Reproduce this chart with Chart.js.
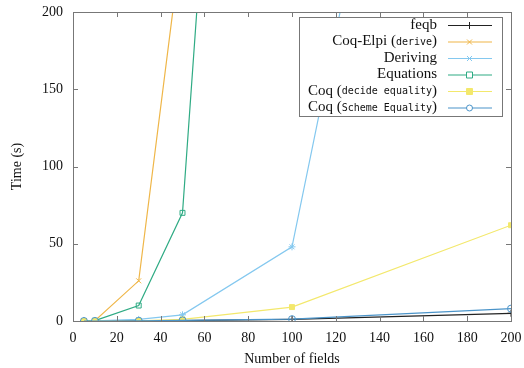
<!DOCTYPE html>
<html>
<head>
<meta charset="utf-8">
<script src="https://cdn.jsdelivr.net/npm/chart.js@4"></script>
<style>
  html, body { margin: 0; padding: 0; background: #fff; }
  #wrap { width: 524px; height: 368px; }
</style>
</head>
<body>
<div id="wrap"><canvas id="timeChart" width="524" height="368"></canvas></div>
<script>
// number of fields measured
const fields = [5, 10, 30, 50, 100, 200];
// times in seconds (values above 200 estimated from slopes)
const feqb = [0, 0, 0.1, 0.3, 1, 5];
const coqElpi = [0, 0.2, 26, 250];
const deriving = [0, 0.1, 1, 4, 48, 740];
const equations = [0, 0.2, 10, 70, 1070];
const coqDecide = [0, 0, 0.1, 1, 9, 62];
const coqScheme = [0, 0, 0.1, 0.4, 1.2, 8];

const xTicks = [0, 20, 40, 60, 80, 100, 120, 140, 160, 180, 200];
const yTicks = [0, 50, 100, 150, 200];

const SERIF = '"Liberation Serif", "DejaVu Serif", serif';
const MONO = '"DejaVu Sans Mono", "Liberation Mono", monospace';

function pts(vals) {
  return vals.map((v, i) => ({ x: fields[i], y: v }));
}

// label pieces: [text, isMono]
const series = [
  { label: [['feqb', false]], data: feqb, color: '#222222', style: 'cross', fill: false },
  { label: [['Coq-Elpi ', false], ['(', false], ['derive', true], [')', false]], data: coqElpi, color: '#efb648', style: 'crossRot', fill: false },
  { label: [['Deriving', false]], data: deriving, color: '#84c8ef', style: 'star', fill: false },
  { label: [['Equations', false]], data: equations, color: '#2fab84', style: 'rect', fill: false },
  { label: [['Coq ', false], ['(', false], ['decide equality', true], [')', false]], data: coqDecide, color: '#f3e86c', style: 'rect', fill: true },
  { label: [['Coq ', false], ['(', false], ['Scheme Equality', true], [')', false]], data: coqScheme, color: '#4b94c9', style: 'circle', fill: false }
];

const datasets = series.map((s, i) => ({
  label: s.label.map(p => p[0]).join(''),
  data: pts(s.data),
  borderColor: s.color,
  backgroundColor: s.fill ? s.color : '#ffffff',
  pointBorderColor: s.color,
  pointBackgroundColor: s.fill ? s.color : 'rgba(0,0,0,0)',
  pointStyle: s.style,
  pointRadius: 3.5,
  pointBorderWidth: 1,
  borderWidth: 1.2,
  tension: 0,
  order: series.length - i
}));

// gnuplot style frame with inward ticks on all four sides
const framePlugin = {
  id: 'frame',
  afterDatasetsDraw(chart) {
    const { ctx, chartArea: a, scales } = chart;
    ctx.save();
    ctx.strokeStyle = '#777777';
    ctx.lineWidth = 1;
    ctx.beginPath();
    const len = 5;
    xTicks.forEach(v => {
      const px = Math.round(scales.x.getPixelForValue(v)) + 0.5;
      ctx.moveTo(px, a.bottom); ctx.lineTo(px, a.bottom - len);
      ctx.moveTo(px, a.top); ctx.lineTo(px, a.top + len);
    });
    yTicks.forEach(v => {
      const py = Math.round(scales.y.getPixelForValue(v)) + 0.5;
      ctx.moveTo(a.left, py); ctx.lineTo(a.left + len, py);
      ctx.moveTo(a.right, py); ctx.lineTo(a.right - len, py);
    });
    ctx.stroke();
    ctx.strokeRect(Math.round(a.left) + 0.5, Math.round(a.top) + 0.5,
      Math.round(a.right - a.left), Math.round(a.bottom - a.top));
    ctx.restore();
  }
};

// legend box in the top right, text right aligned, sample on the right
const keyPlugin = {
  id: 'key',
  afterDraw(chart) {
    const { ctx } = chart;
    const box = { left: 299, top: 17, right: 502, bottom: 116 };
    ctx.save();
    ctx.fillStyle = '#ffffff';
    ctx.fillRect(box.left, box.top, box.right - box.left, box.bottom - box.top);
    ctx.strokeStyle = '#777777';
    ctx.lineWidth = 1;
    ctx.strokeRect(box.left + 0.5, box.top + 0.5, box.right - box.left, box.bottom - box.top);
    const rowH = 16.5;
    series.forEach((s, i) => {
      const y = 25 + i * rowH;
      let x = 437;
      ctx.textBaseline = 'middle';
      ctx.textAlign = 'left';
      ctx.fillStyle = '#111111';
      for (let k = s.label.length - 1; k >= 0; k--) {
        const [txt, mono] = s.label[k];
        ctx.font = mono ? '10px ' + MONO : '15px ' + SERIF;
        const w = ctx.measureText(txt).width;
        ctx.fillText(txt, x - w, mono ? y + 0.5 : y);
        x -= w;
      }
      ctx.strokeStyle = s.color;
      ctx.lineWidth = 1.2;
      ctx.beginPath();
      ctx.moveTo(448, y + 0.5); ctx.lineTo(492, y + 0.5);
      ctx.stroke();
      const st = s.style;
      ctx.fillStyle = s.fill ? s.color : '#ffffff';
      ctx.lineWidth = 1;
      ctx.beginPath();
      if (st === 'rect') {
        ctx.rect(466.5, y - 2.5, 6, 6);
        ctx.fill();
      } else if (st === 'circle') {
        ctx.arc(469.5, y + 0.5, 3, 0, Math.PI * 2);
        ctx.fill();
      } else if (st === 'cross') {
        ctx.moveTo(466, y + 0.5); ctx.lineTo(473, y + 0.5);
        ctx.moveTo(469.5, y - 3); ctx.lineTo(469.5, y + 4);
      } else if (st === 'crossRot') {
        ctx.moveTo(467, y - 2); ctx.lineTo(472, y + 3);
        ctx.moveTo(472, y - 2); ctx.lineTo(467, y + 3);
      } else {
        ctx.moveTo(466, y + 0.5); ctx.lineTo(473, y + 0.5);
        ctx.moveTo(467, y - 2); ctx.lineTo(472, y + 3);
        ctx.moveTo(472, y - 2); ctx.lineTo(467, y + 3);
      }
      ctx.stroke();
    });
    ctx.restore();
  }
};

new Chart(document.getElementById('timeChart'), {
  type: 'line',
  data: { datasets: datasets },
  options: {
    responsive: false,
    animation: false,
    devicePixelRatio: 1,
    layout: { padding: { top: 12, right: 13, left: 0, bottom: 0 } },
    plugins: {
      legend: { display: false },
      tooltip: { enabled: false }
    },
    scales: {
      x: {
        type: 'linear',
        min: 0,
        max: 200,
        afterBuildTicks: s => { s.ticks = xTicks.map(v => ({ value: v })); },
        afterFit: s => { s.height = 47; s.paddingLeft = 0; s.paddingRight = 0; },
        grid: { display: false, drawTicks: false },
        border: { display: false },
        ticks: { color: '#111', padding: 9, maxRotation: 0, font: { family: SERIF, size: 14 } },
        title: { display: true, text: 'Number of fields', color: '#111', padding: { top: 4, bottom: 0 }, font: { family: SERIF, size: 14 } }
      },
      y: {
        type: 'linear',
        min: 0,
        max: 200,
        afterBuildTicks: s => { s.ticks = yTicks.map(v => ({ value: v })); },
        afterFit: s => { s.width = 73; s.paddingTop = 0; s.paddingBottom = 0; },
        grid: { display: false, drawTicks: false },
        border: { display: false },
        ticks: { color: '#111', padding: 10, font: { family: SERIF, size: 14 } },
        title: { display: true, text: 'Time (s)', color: '#111', padding: { top: 9, bottom: 0 }, font: { family: SERIF, size: 14 } }
      }
    }
  },
  plugins: [framePlugin, keyPlugin]
});
</script>
</body>
</html>
